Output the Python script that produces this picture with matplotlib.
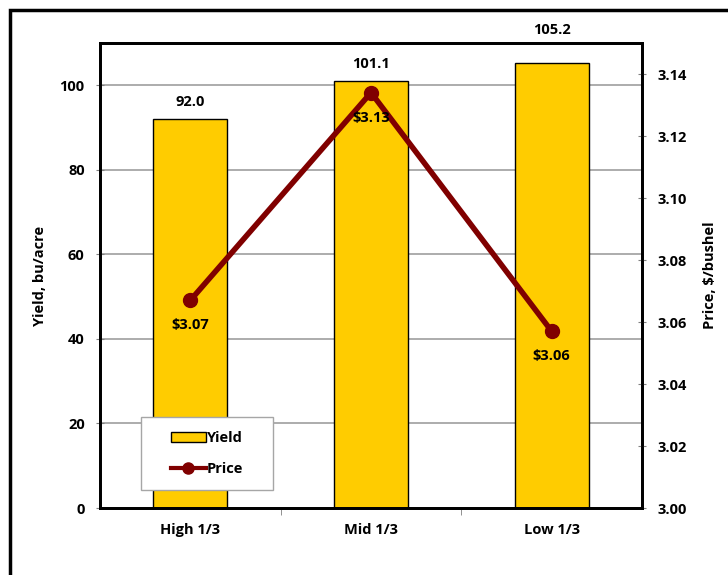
import numpy as np
import matplotlib.pyplot as plt
from matplotlib.patches import Rectangle
from matplotlib.ticker import FixedLocator

plt.rcParams['font.family'] = ['Open Sans', 'DejaVu Sans']
plt.rcParams['font.weight'] = 'bold'
fs = 10.5

# Yield and price by third
groups = ['High 1/3', 'Mid 1/3', 'Low 1/3']
yield_bu = [92.0, 101.1, 105.2]
price = [3.067, 3.134, 3.057]

bar_color = '#FFCC00'
line_color = '#800000'

fig = plt.figure(figsize=(7.28, 5.75), dpi=100)
ax = fig.add_axes([0.1374, 0.1165, 0.7445, 0.8087])
x = np.arange(len(groups))

ax.set_axisbelow(True)
ax.grid(axis='y', color='#A6A6A6', linewidth=1.3)
bars = ax.bar(x, yield_bu, width=0.41, color=bar_color, edgecolor='black',
              linewidth=1.0, label='Yield', zorder=2)
ax.set_xlim(-0.5, 2.5)
ax.set_ylim(0, 110)
ax.set_yticks(np.arange(0, 101, 20))
ax.set_xticks(x)
ax.set_xticklabels(groups)
ax.xaxis.set_minor_locator(FixedLocator([0.5, 1.5]))
ax.tick_params(axis='x', which='major', length=0, pad=11, labelsize=fs)
ax.tick_params(axis='x', which='minor', length=5, direction='out', color='#808080')
ax.tick_params(axis='y', length=6, direction='inout', color='#808080',
               labelsize=fs, pad=8)
ax.set_ylabel('Yield, bu/acre', fontsize=fs, fontweight='bold', labelpad=9)
for side in ax.spines.values():
    side.set_linewidth(2)

# bar value labels
offsets = [12, 12, 24]
for xi, v, off in zip(x, yield_bu, offsets):
    ax.annotate(f'{v:.1f}', (xi, v), xytext=(0, off), textcoords='offset points',
                ha='center', va='center', fontsize=fs, fontweight='bold',
                annotation_clip=False)

ax2 = ax.twinx()
ax2.plot(x, price, color=line_color, linewidth=4, marker='o', markersize=10,
         label='Price', zorder=3)
ax2.set_ylim(3.00, 3.15)
ax2.set_yticks(np.arange(3.00, 3.141, 0.02))
ax2.yaxis.set_major_formatter(plt.FormatStrFormatter('%.2f'))
ax2.tick_params(axis='y', length=6, direction='inout', color='#808080',
                labelsize=fs, pad=8)
ax2.set_ylabel('Price, $/bushel', fontsize=fs, fontweight='bold', labelpad=12)
for side in ax2.spines.values():
    side.set_linewidth(2)

for xi, p in zip(x, price):
    ax2.annotate(f'${p:.2f}', (xi, p), xytext=(0, -18), textcoords='offset points',
                 ha='center', va='center', fontsize=fs, fontweight='bold')

# legend box drawn by hand, entries placed inside it
ax2.add_patch(Rectangle((0.0756, 0.0387), 0.2436, 0.157, transform=ax2.transAxes,
                        facecolor='white', edgecolor='#A6A6A6', linewidth=1,
                        zorder=4.5))
h1, l1 = ax.get_legend_handles_labels()
h2, l2 = ax2.get_legend_handles_labels()
leg = ax2.legend(h1 + h2, l1 + l2, loc='center', bbox_to_anchor=(0.197, 0.117),
                 frameon=False, fontsize=fs, handlelength=2.4,
                 handletextpad=0.05, labelspacing=1.2, borderpad=0)
leg.legend_handles[1].set_markersize(8)
leg.legend_handles[1].set_linewidth(3)
for t in leg.get_texts():
    t.set_fontweight('bold')

# frame around the whole figure
fig.patches.append(Rectangle((10 / 728, -0.05), 1.1, 1.05 - 10 / 575,
                             transform=fig.transFigure, fill=False,
                             edgecolor='black', linewidth=2.5))

fig.savefig('out.png', dpi=100)
